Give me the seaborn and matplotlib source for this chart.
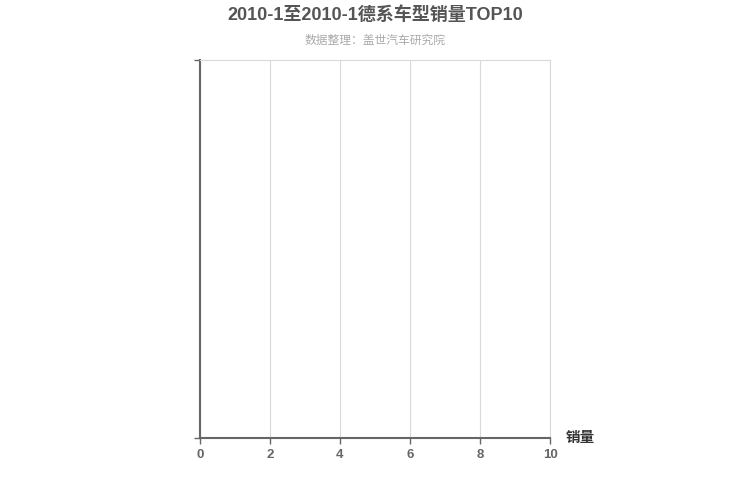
import matplotlib
matplotlib.use("Agg")
import matplotlib.pyplot as plt
import seaborn as sns
import pandas as pd

TITLE = "2010-1至2010-1德系车型销量TOP10"
SUBTITLE = "数据整理：盖世汽车研究院"
X_LABEL = "销量"

# the source chart has no rows at all
models = []
sales = []
x_ticks = [0, 2, 4, 6, 8, 10]

sns.set_theme(style="white")
plt.rcParams['font.family'] = ['Liberation Sans', 'Noto Sans CJK SC', 'DejaVu Sans']

fig = plt.figure(figsize=(7.5, 5), dpi=100)
ax = fig.add_axes([200 / 750, 1 - 438 / 500, 350 / 750, 378 / 500])

df = pd.DataFrame({"model": pd.Series(models, dtype=str), "sales": pd.Series(sales, dtype=float)})
if len(df):
    sns.barplot(data=df, x="sales", y="model", ax=ax, color="#4f81bd")

ax.set_xlim(x_ticks[0], x_ticks[-1])
ax.set_ylim(0, 1)
ax.set_xticks(x_ticks)
ax.set_xticklabels([str(t) for t in x_ticks], fontsize=9.5, fontweight="bold", color="#666666")
ax.set_yticks([0, 1])
ax.set_yticklabels(["", ""])
ax.grid(axis="x", color="#d9d9d9", linewidth=0.8)
ax.set_axisbelow(True)

for side in ["top", "right"]:
    ax.spines[side].set_color("#d9d9d9")
    ax.spines[side].set_linewidth(0.8)
for side in ["left", "bottom"]:
    ax.spines[side].set_color("#666666")
    ax.spines[side].set_linewidth(1.5)
ax.tick_params(axis="both", length=4, width=1, color="#666666", pad=4)
ax.tick_params(axis="x", bottom=True)
ax.tick_params(axis="y", left=True)
ax.set_xlabel("")
ax.set_ylabel("")

fig.text(0.5, 1 - 15 / 500, TITLE, ha="center", va="center", fontsize=13,
         fontweight="bold", color="#555555")
fig.text(0.5, 1 - 41 / 500, SUBTITLE, ha="center", va="center", fontsize=8.5,
         color="#aaaaaa")
fig.text(580 / 750, 1 - 438 / 500, X_LABEL, ha="center", va="center", fontsize=10.5,
         fontweight="bold", color="#333333")

fig.savefig("out.png", dpi=100)
